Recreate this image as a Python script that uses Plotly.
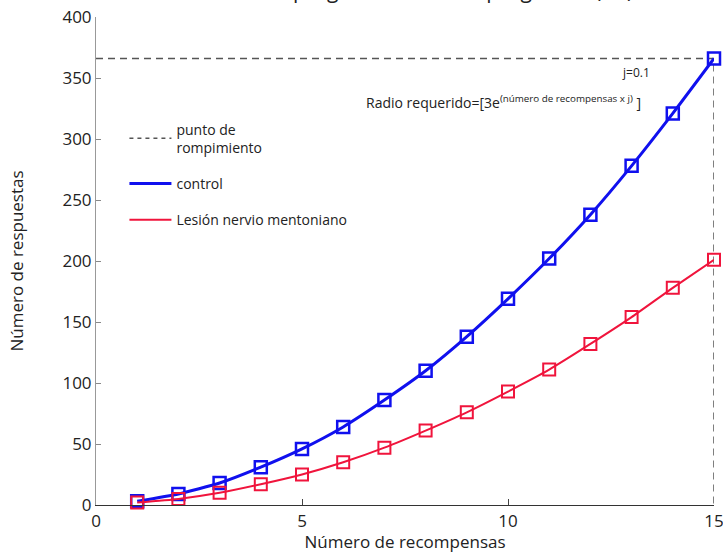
import plotly.graph_objects as go

# Rewards delivered (x) and responses emitted (y) for each group
recompensas = list(range(1, 16))
control = [3, 9, 18, 31, 46, 64, 86, 110, 138, 169, 202, 238, 278, 321, 366]
lesion = [2, 5, 10, 17, 25, 35, 47, 61, 76, 93, 111, 132, 154, 178, 201]

x_ticks = [0, 5, 10, 15]
y_ticks = [0, 50, 100, 150, 200, 250, 300, 350, 400]

FONT = "Open Sans"
BLUE = "#1010ee"
RED = "#f0143c"
DASH_GRAY = "#555555"
DASH = "7px,5px"

# Breakpoint: last ratio completed by the control group
x_break = recompensas[-1]
y_break = control[-1]

fig = go.Figure()

fig.add_trace(go.Scatter(
    x=[0, x_break, x_break], y=[y_break, y_break, 0],
    mode="lines", showlegend=False,
    line=dict(color=DASH_GRAY, width=1.5, dash=DASH),
    cliponaxis=False,
))
fig.add_trace(go.Scatter(
    x=recompensas, y=control, mode="lines+markers", showlegend=False,
    line=dict(color=BLUE, width=3, shape="spline", smoothing=0.5),
    marker=dict(symbol="square-open", size=12, color=BLUE, line=dict(width=2.5)),
    cliponaxis=False,
))
fig.add_trace(go.Scatter(
    x=recompensas, y=lesion, mode="lines+markers", showlegend=False,
    line=dict(color=RED, width=2, shape="spline", smoothing=0.5),
    marker=dict(symbol="square-open", size=12, color=RED, line=dict(width=2)),
    cliponaxis=False,
))

# Legend entries show line samples only
legend_items = [
    ("punto de<br>rompimiento", dict(color=DASH_GRAY, width=1.5, dash="4px,4px"), "a"),
    ("control", dict(color=BLUE, width=3), "b"),
    ("Lesión nervio mentoniano", dict(color=RED, width=2), "c"),
]
for name, line, grp in legend_items:
    fig.add_trace(go.Scatter(
        x=[None], y=[None], mode="lines", name=name, line=line, legendgroup=grp,
    ))

fig.add_annotation(
    x=0.874, y=0.887, xref="paper", yref="paper", xanchor="center", yanchor="middle",
    text="j=0.1", showarrow=False, font=dict(family=FONT, size=12, color="#222222"),
)
fig.add_annotation(
    x=0.433, y=0.826, xref="paper", yref="paper", xanchor="left", yanchor="middle",
    text="Radio requerido=[3e<sup>(número de recompensas x j)</sup> ]",
    showarrow=False, font=dict(family=FONT, size=14, color="#222222"),
)
fig.add_annotation(
    x=0.464, y=1, xref="paper", yref="paper", xanchor="center", yanchor="bottom",
    yshift=11, text="Rendimiento en programa de razón progresiva (RP)",
    showarrow=False, font=dict(family=FONT, size=21, color="#222222"),
)

fig.update_layout(
    width=723, height=553,
    margin=dict(l=96, r=9, t=17, b=48),
    paper_bgcolor="white", plot_bgcolor="white",
    font=dict(family=FONT, size=16, color="#222222"),
    showlegend=True,
    legend=dict(
        x=0.046, y=0.802, xanchor="left", yanchor="top",
        bgcolor="rgba(0,0,0,0)", font=dict(size=14, color="#222222"),
        tracegroupgap=15, itemwidth=42,
    ),
    xaxis=dict(
        range=[0, 15], tickvals=x_ticks, ticks="inside", ticklen=6,
        tickcolor="#444444", showgrid=False, zeroline=False,
        showline=True, linecolor="#333333", linewidth=1.3,
        automargin=False, ticklabeloverflow="allow",
        title=dict(text="Número de recompensas", standoff=15, font=dict(size=17)),
        tickfont=dict(size=17),
    ),
    yaxis=dict(
        range=[0, 400], tickvals=y_ticks, ticks="inside", ticklen=5,
        tickcolor="#888888", showgrid=False, zeroline=False,
        showline=True, linecolor="#999999", linewidth=1,
        automargin=False, ticklabeloverflow="allow",
        title=dict(text="Número de respuestas", standoff=34, font=dict(size=17)),
        tickfont=dict(size=17),
    ),
)

fig.write_html("out.html")
